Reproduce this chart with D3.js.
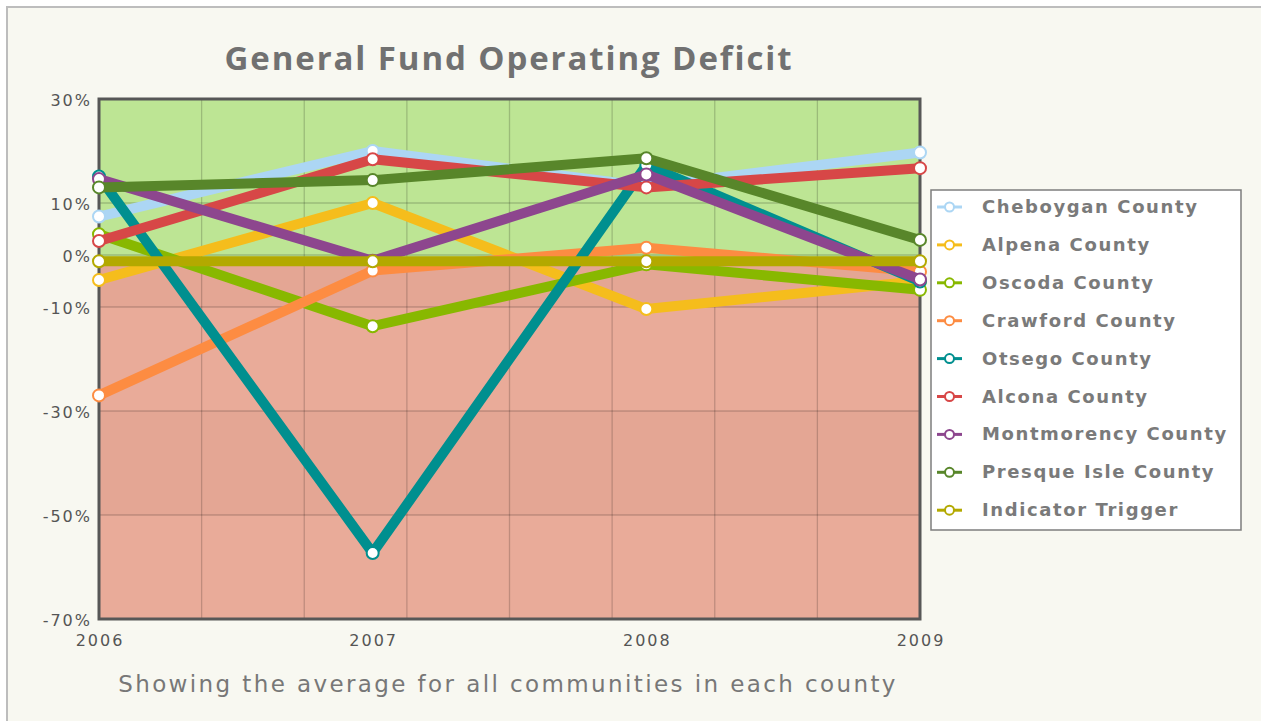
<!DOCTYPE html>
<html>
<head>
<meta charset="utf-8">
<script src="https://cdn.jsdelivr.net/npm/d3@7"></script>
<style>
  html, body { margin: 0; padding: 0; background: #fff; }
  svg { display: block; }
  .tick-label { font-family: "DejaVu Sans", Verdana, sans-serif; font-size: 16px; fill: #555; letter-spacing: 2px; }
  .legend-label { font-family: "DejaVu Sans", Verdana, sans-serif; font-size: 18px; font-weight: bold; fill: #7a7a7a; letter-spacing: 1.6px; }
</style>
</head>
<body>
<div id="chart"></div>
<script>
// values, in percent
var years = ["2006", "2007", "2008", "2009"];
var seriesNames = ["Cheboygan County", "Alpena County", "Oscoda County", "Crawford County",
    "Otsego County", "Alcona County", "Montmorency County", "Presque Isle County", "Indicator Trigger"];
var seriesColors = ["#acd6f4", "#f5bd1c", "#88b800", "#fd8c42", "#008f8f",
    "#d74747", "#8d468e", "#58862a", "#b3a900"];

var cheboygan   = [7.4, 20.0, 13.2, 19.7];
var alpena      = [-4.8, 10.0, -10.4, -5.0];
var oscoda      = [4.0, -13.7, -1.8, -6.7];
var crawford    = [-27.0, -3.0, 1.4, -3.2];
var otsego      = [15.1, -57.3, 17.3, -5.1];
var alcona      = [2.7, 18.4, 13.0, 16.7];
var montmorency = [14.6, -1.1, 15.5, -4.7];
var presqueIsle = [13.0, 14.4, 18.6, 2.9];
var trigger     = [-1.2, -1.2, -1.2, -1.2];

var yTicks = [30, 10, 0, -10, -30, -50, -70];

var seriesValues = [cheboygan, alpena, oscoda, crawford, otsego, alcona, montmorency, presqueIsle, trigger];

(function () {
    var width = 1261, height = 721;
    var plotLeft = 99, plotRight = 920, plotTop = 99, plotBottom = 619;

    var svg = d3.select("#chart").append("svg")
        .attr("width", width)
        .attr("height", height);

    // page frame
    svg.append("rect")
        .attr("x", 7).attr("y", 7)
        .attr("width", width).attr("height", height)
        .style("fill", "#f8f8f1")
        .style("stroke", "#bdbdbd")
        .style("stroke-width", 2);

    var x = d3.scalePoint().domain(years).range([plotLeft, plotRight]);
    var y = d3.scaleLinear().domain([-70, 30]).range([plotBottom, plotTop]);
    var xGrid = d3.scaleLinear().domain([0, 8]).range([plotLeft, plotRight]);

    // background bands: green above the trigger, salmon below
    svg.append("rect")
        .attr("x", plotLeft).attr("y", y(30))
        .attr("width", plotRight - plotLeft).attr("height", y(trigger[0]) - y(30))
        .style("fill", "#bde594");

    var bandEdges = [trigger[0], -10, -30, -50, -70];
    for (var i = 0; i < bandEdges.length - 1; i++) {
        svg.append("rect")
            .attr("x", plotLeft).attr("y", y(bandEdges[i]))
            .attr("width", plotRight - plotLeft)
            .attr("height", y(bandEdges[i + 1]) - y(bandEdges[i]))
            .style("fill", i % 2 == 0 ? "#e4a694" : "#e9ab99");
    }

    // grid
    svg.selectAll(".hgrid")
        .data(yTicks)
      .enter().append("line")
        .attr("class", "hgrid")
        .attr("x1", plotLeft).attr("x2", plotRight)
        .attr("y1", function (d) { return y(d); })
        .attr("y2", function (d) { return y(d); })
        .style("stroke", "#000").style("stroke-opacity", 0.18).style("stroke-width", 1.3);

    svg.selectAll(".vgrid")
        .data(d3.range(1, 8))
      .enter().append("line")
        .attr("class", "vgrid")
        .attr("y1", plotTop).attr("y2", plotBottom)
        .attr("x1", function (d) { return xGrid(d); })
        .attr("x2", function (d) { return xGrid(d); })
        .style("stroke", "#000").style("stroke-opacity", 0.18).style("stroke-width", 1.3);

    // plot border
    svg.append("rect")
        .attr("x", plotLeft).attr("y", plotTop)
        .attr("width", plotRight - plotLeft).attr("height", plotBottom - plotTop)
        .style("fill", "none").style("stroke", "#575757").style("stroke-width", 3);

    // axis labels
    svg.selectAll(".ylab")
        .data(yTicks)
      .enter().append("text")
        .attr("class", "tick-label")
        .attr("x", 92)
        .attr("y", function (d) { return y(d) + 7; })
        .attr("text-anchor", "end")
        .text(function (d) { return d + "%"; });

    svg.selectAll(".xlab")
        .data(years)
      .enter().append("text")
        .attr("class", "tick-label")
        .attr("x", function (d) { return x(d) + 1; })
        .attr("y", 646)
        .attr("text-anchor", "middle")
        .text(function (d) { return d; });

    // series, each one line then its markers
    var line = d3.line()
        .x(function (d, i) { return x(years[i]); })
        .y(function (d) { return y(d); });

    seriesValues.forEach(function (vals, s) {
        var g = svg.append("g").attr("class", "series");
        g.append("path")
            .datum(vals)
            .attr("d", line)
            .style("fill", "none")
            .style("stroke", seriesColors[s])
            .style("stroke-width", 10)
            .style("stroke-linejoin", "round");
        g.selectAll("circle")
            .data(vals)
          .enter().append("circle")
            .attr("cx", function (d, i) { return x(years[i]); })
            .attr("cy", function (d) { return y(d); })
            .attr("r", 6)
            .style("fill", "#fff")
            .style("stroke", seriesColors[s])
            .style("stroke-width", 2);
    });

    // title and subtitle
    svg.append("text")
        .attr("x", 509).attr("y", 70)
        .attr("text-anchor", "middle")
        .style("font-family", "'Open Sans', sans-serif")
        .style("font-weight", "bold")
        .style("font-size", "33px")
        .style("letter-spacing", "1.9px")
        .style("fill", "#717171")
        .text("General Fund Operating Deficit");

    svg.append("text")
        .attr("x", 508).attr("y", 692)
        .attr("text-anchor", "middle")
        .style("font-family", "'DejaVu Sans', Verdana, sans-serif")
        .style("font-size", "23px")
        .style("letter-spacing", "2.4px")
        .style("fill", "#777")
        .text("Showing the average for all communities in each county");

    // legend
    var legend = svg.append("g").attr("transform", "translate(931,190)");
    legend.append("rect")
        .attr("width", 310).attr("height", 340)
        .style("fill", "#fff").style("stroke", "#7d7d7d").style("stroke-width", 1.5);

    var item = legend.selectAll(".item")
        .data(seriesNames)
      .enter().append("g")
        .attr("class", "item")
        .attr("transform", function (d, i) { return "translate(0," + (17 + i * 37.9) + ")"; });

    item.append("line")
        .attr("x1", 6).attr("x2", 31)
        .style("stroke", function (d, i) { return seriesColors[i]; })
        .style("stroke-width", 3);
    item.append("circle")
        .attr("cx", 18.5).attr("r", 4.5)
        .style("fill", "#fff")
        .style("stroke", function (d, i) { return seriesColors[i]; })
        .style("stroke-width", 2);
    item.append("text")
        .attr("class", "legend-label")
        .attr("x", 51).attr("y", 6)
        .text(function (d) { return d; });
})();
</script>
</body>
</html>
